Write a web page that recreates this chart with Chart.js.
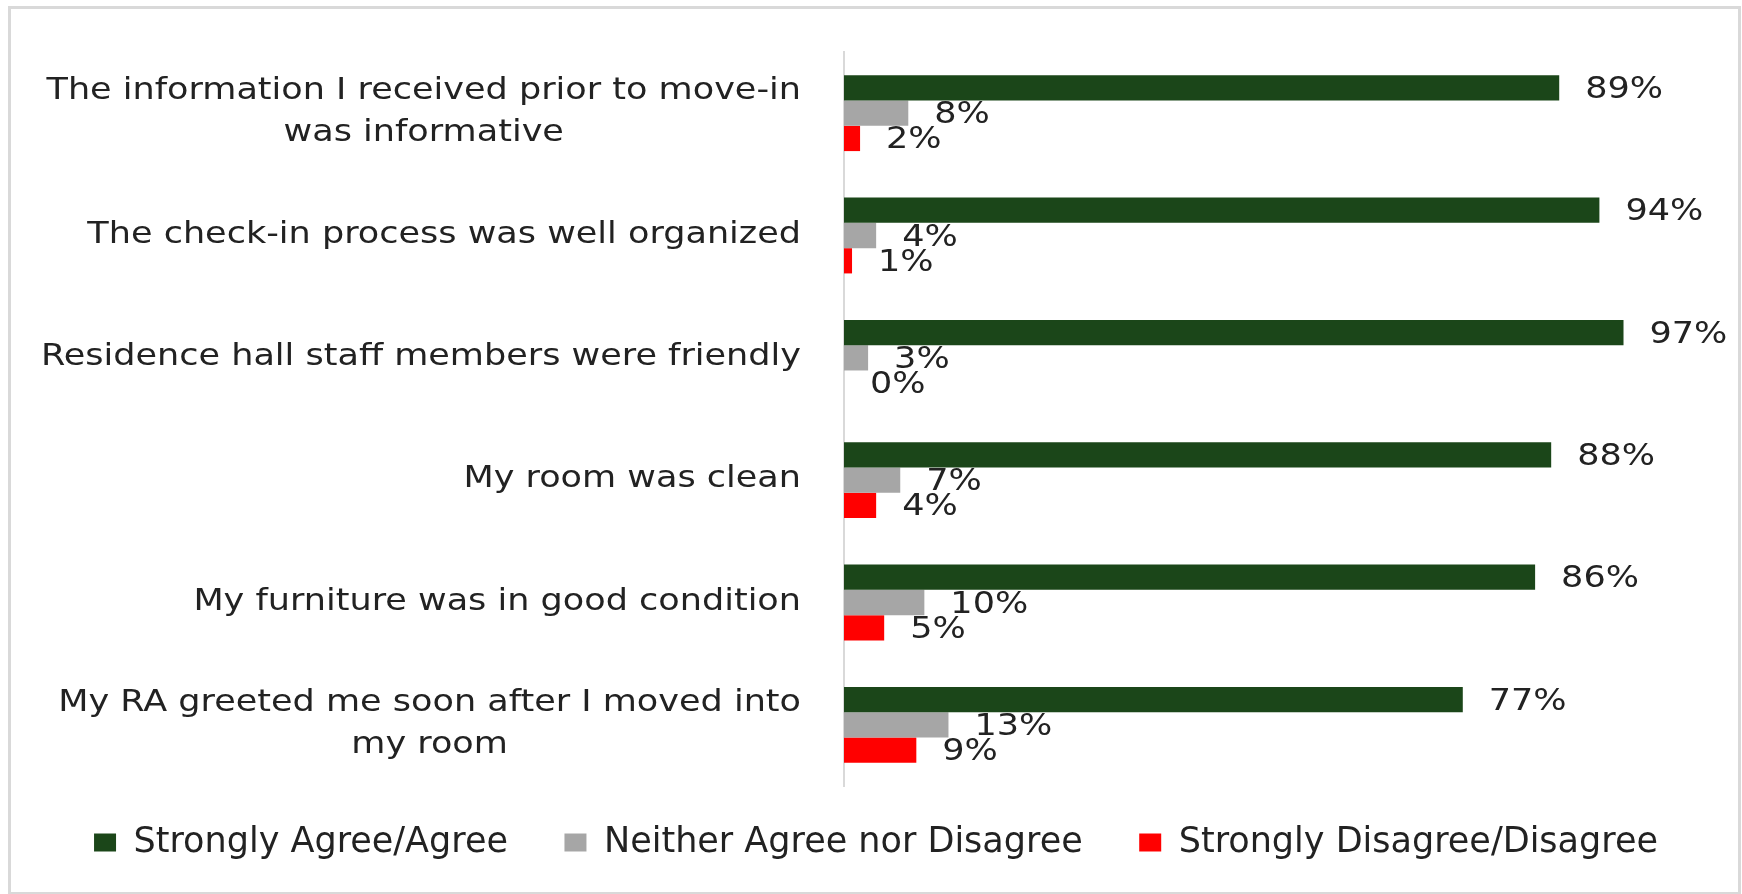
<!DOCTYPE html>
<html lang="en">
<head>
    <meta charset="UTF-8">
    <title>Move-in Survey</title>
    <script src="https://cdn.jsdelivr.net/npm/chart.js"></script>
    <style>
        body {
            margin: 0;
            background-color: #ffffff;
        }
        #wrap {
            position: relative;
            width: 1742px;
            height: 894px;
        }
        #frame {
            position: absolute;
            left: 8px;
            top: 6px;
            width: 1727px;
            height: 883px;
            border: 3px solid #d9d9d9;
            pointer-events: none;
        }
    </style>
</head>
<body>
    <div id="wrap">
        <canvas id="surveyChart" width="1742" height="894"></canvas>
        <div id="frame"></div>
    </div>

    <script>
        const categories = [
            ['The information I received prior to move-in', 'was informative'],
            ['The check-in process was well organized'],
            ['Residence hall staff members were friendly'],
            ['My room was clean'],
            ['My furniture was in good condition'],
            ['My RA greeted me soon after I moved into', 'my room']
        ];
        const seriesNames = ['Strongly Agree/Agree', 'Neither Agree nor Disagree', 'Strongly Disagree/Disagree'];
        const agreeValues = [89, 94, 97, 88, 86, 77];
        const neutralValues = [8, 4, 3, 7, 10, 13];
        const disagreeValues = [2, 1, 0, 4, 5, 9];
        const seriesColors = ['#1b4619', '#a6a6a6', '#ff0000'];

        const textColor = '#222222';
        const fontName = '"DejaVu Sans", Verdana, sans-serif';
        const stretch = 1.13; // text in the original looks a bit wider than DejaVu

        // category labels: block right-aligned, lines centered inside the block
        const categoryLabels = {
            id: 'categoryLabels',
            afterDraw(chart) {
                const ctx = chart.ctx;
                const yScale = chart.scales.y;
                const lineH = 42;
                ctx.save();
                ctx.font = '31px ' + fontName;
                ctx.fillStyle = textColor;
                ctx.textAlign = 'center';
                ctx.textBaseline = 'middle';
                categories.forEach((lines, i) => {
                    const cy = yScale.getPixelForTick(i);
                    const widths = lines.map(l => ctx.measureText(l).width * stretch);
                    const blockW = Math.max(...widths);
                    const cx = chart.chartArea.left - 43 - blockW / 2;
                    const top = cy - (lines.length - 1) * lineH / 2;
                    lines.forEach((l, j) => {
                        ctx.save();
                        ctx.translate(cx, top + j * lineH - 1);
                        ctx.scale(stretch, 1);
                        ctx.fillText(l, 0, 0);
                        ctx.restore();
                    });
                });
                ctx.restore();
            }
        };

        // value labels after each bar
        const valueLabels = {
            id: 'valueLabels',
            afterDatasetsDraw(chart) {
                const ctx = chart.ctx;
                ctx.save();
                ctx.font = '31px ' + fontName;
                ctx.fillStyle = textColor;
                ctx.textAlign = 'left';
                ctx.textBaseline = 'middle';
                chart.data.datasets.forEach((ds, di) => {
                    const meta = chart.getDatasetMeta(di);
                    meta.data.forEach((bar, i) => {
                        ctx.save();
                        ctx.translate(bar.x + 26, bar.y + 2);
                        ctx.scale(stretch, 1);
                        ctx.fillText(ds.data[i] + '%', 0, 0);
                        ctx.restore();
                    });
                });
                ctx.restore();
            }
        };

        const ctx = document.getElementById('surveyChart').getContext('2d');
        new Chart(ctx, {
            type: 'bar',
            data: {
                labels: categories,
                datasets: [
                    { label: seriesNames[0], data: agreeValues, backgroundColor: seriesColors[0] },
                    { label: seriesNames[1], data: neutralValues, backgroundColor: seriesColors[1] },
                    { label: seriesNames[2], data: disagreeValues, backgroundColor: seriesColors[2] }
                ]
            },
            options: {
                indexAxis: 'y',
                responsive: false,
                animation: false,
                datasets: {
                    bar: {
                        barPercentage: 1,
                        categoryPercentage: 0.62
                    }
                },
                layout: {
                    padding: { left: 20, right: 10, top: 52, bottom: 24 }
                },
                scales: {
                    x: {
                        display: false,
                        min: 0,
                        max: 110.5
                    },
                    y: {
                        grid: { display: false },
                        border: { display: true, color: '#d9d9d9', width: 2 },
                        ticks: { display: false },
                        afterFit: s => { s.width = 824; }
                    }
                },
                plugins: {
                    tooltip: { enabled: false },
                    legend: {
                        position: 'bottom',
                        labels: {
                            color: textColor,
                            boxWidth: 22,
                            boxHeight: 18,
                            padding: 39,
                            font: { family: fontName, size: 35 },
                            generateLabels: chart => {
                                const items = Chart.defaults.plugins.legend.labels.generateLabels(chart);
                                // a little extra room after each entry, like the original
                                items.forEach((it, i) => {
                                    if (i < items.length - 1) it.text += '\u2002';
                                });
                                return items;
                            }
                        }
                    }
                }
            },
            plugins: [categoryLabels, valueLabels]
        });
    </script>
</body>
</html>
